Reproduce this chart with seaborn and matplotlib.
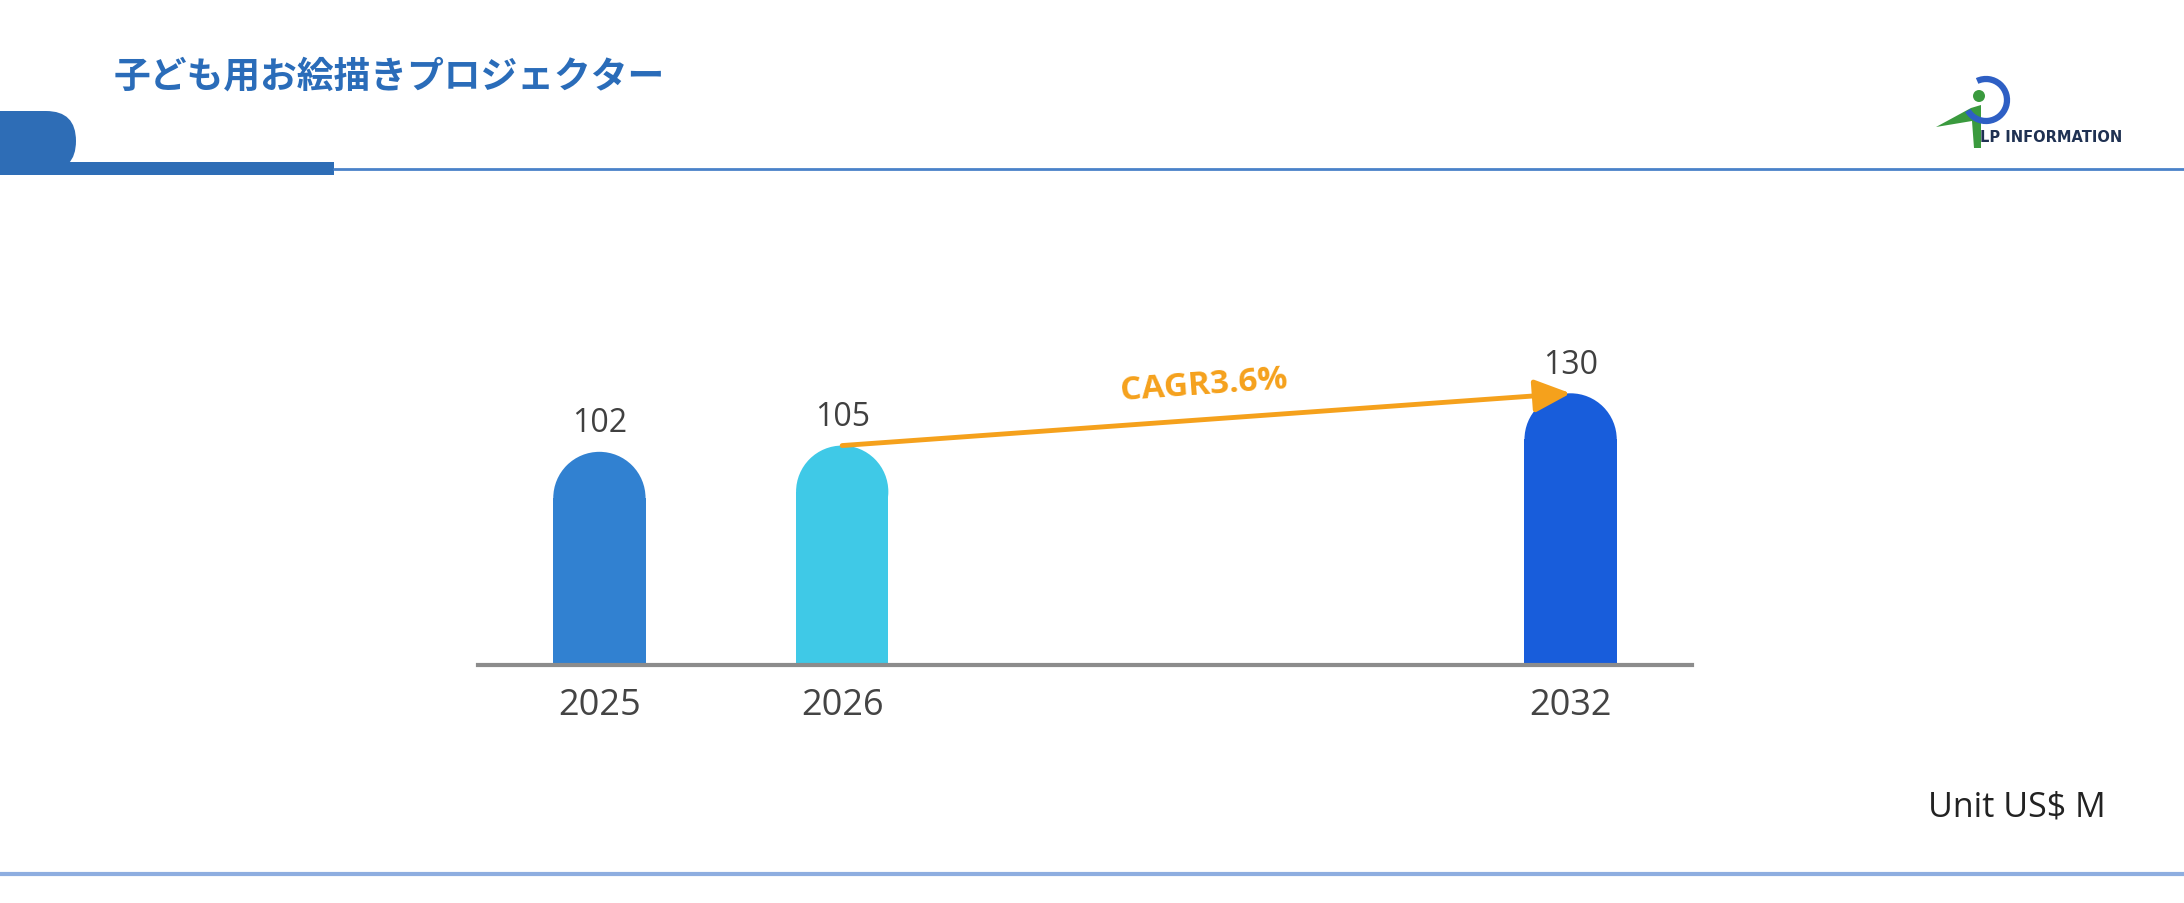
import matplotlib
matplotlib.use("Agg")
import matplotlib.pyplot as plt
import seaborn as sns
import pandas as pd
import numpy as np
from matplotlib.patches import Ellipse, FancyBboxPatch, Rectangle, Polygon, Circle, Arc, FancyArrowPatch

# chart data
years = ["2025", "2026", "2032"]
values = [102, 105, 130]
slot_order = ["2025", "2026", " ", "  ", "2032"]
bar_colors = {"2025": "#3181d1", "2026": "#3fc9e7", "2032": "#185ddb"}
cagr_text = "CAGR3.6%"
title_text = "子ども用お絵描きプロジェクター"
unit_text = "Unit US$ M"

sns.set_theme(style="white")
plt.rcParams["font.family"] = ["Open Sans", "DejaVu Sans"]

W, H = 2184, 904
fig = plt.figure(figsize=(W / 100, H / 100), dpi=100)

# decoration layer in pixel coordinates
deco = fig.add_axes([0, 0, 1, 1])
deco.set_xlim(0, W)
deco.set_ylim(H, 0)
deco.axis("off")

blue = "#2e6db6"
deco.add_patch(FancyBboxPatch((-60, 112), 136, 60, boxstyle="round,pad=0,rounding_size=30",
                              fc=blue, ec="none", lw=0))
deco.add_patch(Rectangle((0, 163), 334, 13, fc=blue, ec="none", lw=0))
deco.plot([334, W], [170, 170], color="#4a82c9", lw=2)
deco.plot([0, W], [875, 875], color="#8eaee0", lw=3)

deco.text(114, 77, title_text, fontsize=26.5, fontweight="bold", color="#2a6cb9",
          va="center", ha="left", family=["Noto Sans CJK JP", "DejaVu Sans"])

# logo
green = "#3a9a3e"
deco.add_patch(Polygon([(1936, 128), (1971, 109), (1981, 106), (1981, 149),
                        (1974, 149), (1972, 122)], closed=True, fc=green, ec="none", lw=0))
deco.add_patch(Circle((1979, 97), 6, fc=green, ec="none", lw=0))
deco.add_patch(Arc((1986, 101), 42, 42, angle=0, theta1=-115, theta2=150,
                   color="#2e5fc4", lw=4.5))
deco.text(1980, 138, "LP INFORMATION", fontsize=10.5, fontweight="bold", color="#1f3152",
          va="center", ha="left", family=["DejaVu Sans"])

deco.text(2106, 808, unit_text, fontsize=24.5, color="#222222", va="center", ha="right")

# main chart
ymax = 200
ax = fig.add_axes([478 / W, 238 / H, 1214 / W, (ymax * 2.09) / H])
df = pd.DataFrame({"year": years, "value": values})
sns.barplot(data=df, x="year", y="value", hue="year", order=slot_order,
            palette=bar_colors, width=0.38, legend=False, ax=ax, saturation=1,
            linewidth=0, edgecolor="none")
ax.set_xlim(-0.5, 4.5)
ax.set_ylim(0, ymax)
ax.set_xlabel("")
ax.set_ylabel("")
ax.set_yticks([])
for side in ["top", "right", "left"]:
    ax.spines[side].set_visible(False)
ax.spines["bottom"].set_color("#8c8c8c")
ax.spines["bottom"].set_linewidth(3)
ax.spines["bottom"].set_zorder(5)
ax.tick_params(axis="x", length=0, pad=16, labelsize=26, labelcolor="#444444")
ax.set_facecolor("none")

# rounded tops
ax_w_px = 1214
ax_h_px = ymax * 2.09
px_x = ax_w_px / 5.0
px_y = ax_h_px / ymax
bars = [p for p in ax.patches if p.get_height() > 0]
tops = []
for p in bars:
    x0, w, h = p.get_x(), p.get_width(), p.get_height()
    r_y = (w * px_x / 2) / px_y
    p.set_height(h - r_y)
    ax.add_patch(Ellipse((x0 + w / 2, h - r_y), w, 2 * r_y, fc=p.get_facecolor(), ec="none", lw=0))
    tops.append((x0 + w / 2, h))
    ax.annotate(f"{h:.0f}", (x0 + w / 2, h), xytext=(0, 21), textcoords="offset points",
                ha="center", va="center", fontsize=23, color="#404040")

# CAGR arrow from 2026 to 2032
(xa, ya), (xb, yb) = tops[1], tops[2]
arr = FancyArrowPatch((xa, ya), (xb, yb), arrowstyle="-|>,head_length=1.1,head_width=0.5",
                      mutation_scale=20, color="#f5a11c", lw=3.5, shrinkA=0, shrinkB=0, zorder=6)
ax.add_patch(arr)
ang = np.degrees(np.arctan2((yb - ya) * px_y, (xb - xa) * px_x))
ax.annotate(cagr_text, ((xa + xb) / 2, (ya + yb) / 2), xytext=(-2, 25), textcoords="offset points",
            ha="center", va="center", fontsize=24, fontweight="bold", color="#f5a11c",
            rotation=ang, rotation_mode="anchor")

fig.savefig("out.png", dpi=100)
